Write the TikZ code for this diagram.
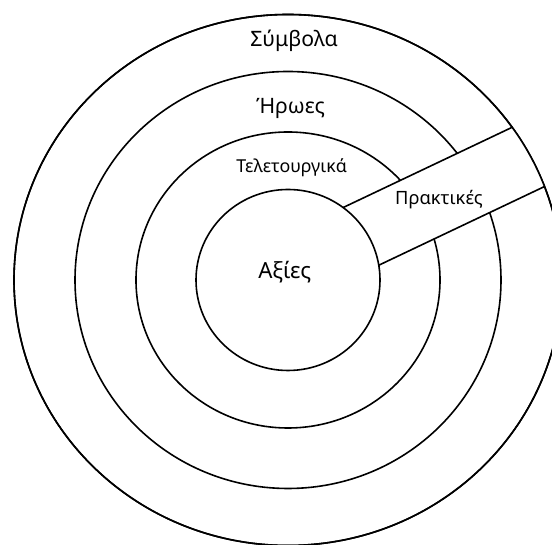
\documentclass[tikz,border=0pt]{standalone}
\usepackage{fontspec}
\setmainfont{Noto Sans}
\usepackage{tikz}

\begin{document}
\begin{tikzpicture}[x=1pt, y=1pt,
    ring/.style={draw=black, line width=1.6pt},
    layerlabel/.style={anchor=base, inner sep=0pt}]
  \useasboundingbox (0,0) rectangle (552,545);
  \clip (0,0) rectangle (552,545);
  \coordinate (c) at (288,265);

  % Layers of the onion
  \draw[ring] (c) ellipse [x radius=274, y radius=265.5];
  \draw[ring] (c) ellipse [x radius=213, y radius=208.5];
  \draw[ring] (c) ellipse [x radius=152, y radius=148];

  % Practices band cutting through the layers
  \begin{scope}
    \clip (c) ellipse [x radius=274, y radius=265.5];
    \begin{scope}[shift={(c)}, rotate=25.4]
      \fill[white] (0,-25.6) rectangle (320,41.8);
      \draw[ring] (0,41.8) -- (320,41.8);
      \draw[ring] (0,-25.6) -- (320,-25.6);
    \end{scope}
  \end{scope}
  \draw[ring] (c) ellipse [x radius=274, y radius=265.5];

  % Core
  \draw[ring, fill=white] (c) ellipse [x radius=92, y radius=90.5];

  % Labels
  \node[layerlabel, font=\fontsize{21.2}{25}\selectfont] (symbols) at (294,498.3) {Σύμβολα};
  \node[layerlabel, font=\fontsize{21.2}{25}\selectfont] (heroes) at (290.5,431.7) {Ήρωες};
  \node[layerlabel, font=\fontsize{17.8}{21}\selectfont] (rituals) at (291.7,372.3) {Τελετουργικά};
  \node[layerlabel, font=\fontsize{22.2}{26}\selectfont] (values) at (284.7,266.7) {Αξίες};
  \node[layerlabel, font=\fontsize{18.3}{22}\selectfont] (practices) at (439,340) {Πρακτικές};

\end{tikzpicture}
\end{document}
